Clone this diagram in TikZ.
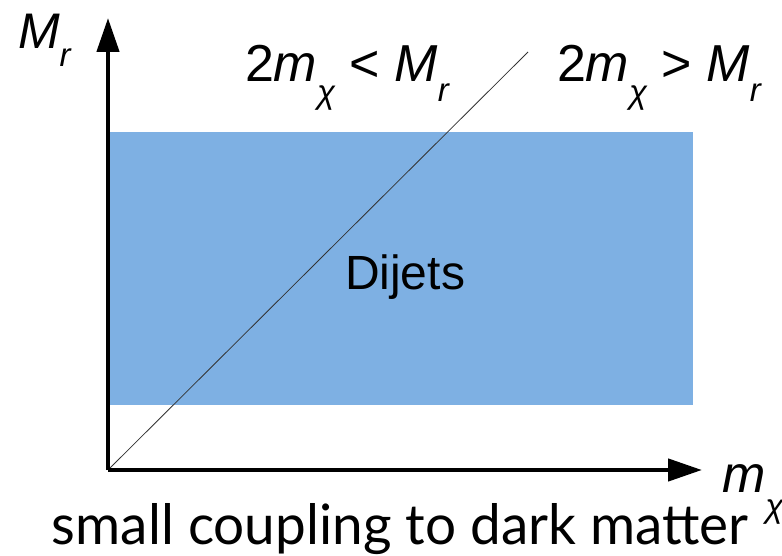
\documentclass[tikz,border=0pt]{standalone}
\usepackage{fontspec}
\setmainfont{Liberation Sans}
\newfontfamily\gillfont{Lato}
\usetikzlibrary{arrows.meta}
\definecolor{bandblue}{RGB}{126,176,227}
\tikzset{
  axis/.style={line width=4.5pt, -{Triangle[length=34pt,width=22pt]}},
  diag/.style={line width=0.8pt, black!80},
  lbl/.style={anchor=base west, inner sep=0pt, outer sep=0pt},
}
\newcommand{\bigf}{\fontsize{52}{52}\selectfont}
\newcommand{\subf}{\fontsize{33}{33}\selectfont\itshape}
\begin{document}
\begin{tikzpicture}[x=1pt,y=-1pt]
\useasboundingbox (0,0) rectangle (782,556);
\fill[bandblue] (110,132) rectangle (693,405);
\coordinate (O) at (108,470);
\coordinate (Ytop) at (108,18);
\coordinate (Xend) at (702,470);
\coordinate (D) at (528,52);
\draw[diag] (O) -- (D);
\draw[axis] (O) -- (Ytop);
\draw[axis] (O) -- (Xend);
\node[lbl] (mr) at (18,49) {\fontsize{50}{50}\selectfont\itshape M\raisebox{-18pt}{\subf r}};
\node[lbl] (lt) at (245,82) {\bigf 2\textit{m}\raisebox{-22pt}{\subf χ} < \textit{M}\raisebox{-20pt}{\subf r}};
\node[lbl] (gt) at (557,82) {\bigf 2\textit{m}\raisebox{-22pt}{\subf χ} > \textit{M}\raisebox{-20pt}{\subf r}};
\node[lbl] (dij) at (345,290) {\fontsize{48}{48}\selectfont Dijets};
\node[lbl] (mx) at (722,492) {\bigf\itshape m\raisebox{-25pt}{\subf χ}};
\node[lbl] (cap) at (52,544) {\resizebox{696pt}{41pt}{\gillfont small coupling to dark matter}};
\end{tikzpicture}
\end{document}
